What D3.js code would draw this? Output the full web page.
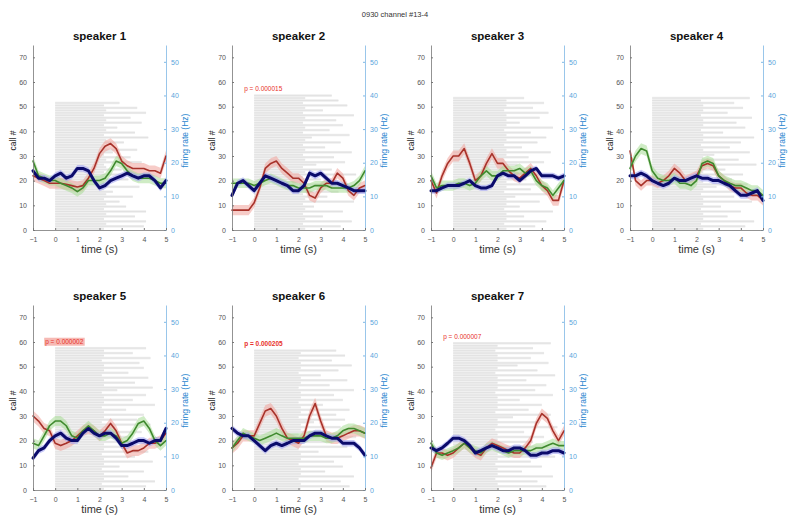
<!DOCTYPE html>
<html><head><meta charset="utf-8">
<script src="https://cdn.jsdelivr.net/npm/d3@7"></script>
<style>
body{margin:0;background:#fff;}
svg{display:block;font-family:Arial,"Liberation Sans",sans-serif;}
</style>
</head><body>
<svg id="chart" width="791" height="520"></svg>
<script>
// ---------------- data ----------------
const figTitle = "0930 channel #13-4";
const speakers = ["speaker 1","speaker 2","speaker 3","speaker 4","speaker 5","speaker 6","speaker 7"];
const timePoints = [-1,-0.75,-0.5,-0.25,0,0.25,0.5,0.75,1,1.25,1.5,1.75,2,2.25,2.5,2.75,3,3.25,3.5,3.75,4,4.25,4.5,4.75,5];
const xTicks = [-1,0,1,2,3,4,5];
const callTicks = [0,10,20,30,40,50,60,70];
const rateTicks = [0,10,20,30,40,50];
const callDomain = [0,75];
const rateDomain = [0,55];
const xLabel = "time (s)";
const callLabel = "call #";
const rateLabel = "firing rate (Hz)";

// firing rates (Hz) per speaker
const redRate = [
 [16.1,15.4,14.7,13.9,13.9,13.9,13.6,13.2,12.8,13.2,15.4,18.3,22.7,24.9,25.7,24.2,20.5,19.1,18.3,18.3,18.3,17.6,17.6,16.9,22.0],
 [5.9,5.9,5.9,5.9,8.1,12.5,18.3,19.8,20.5,18.3,16.9,15.4,15.4,13.9,10.3,9.5,12.5,13.9,13.9,16.9,15.4,11.7,10.3,12.5,13.2],
 [14.7,11.0,16.1,19.8,22.0,22.0,24.2,19.8,14.7,16.1,19.8,22.7,19.8,19.8,17.6,16.1,15.4,16.9,18.3,16.1,13.2,11.7,8.8,8.8,14.7],
 [23.5,14.7,13.2,14.7,14.7,13.9,14.7,16.1,18.3,16.9,14.7,15.4,16.1,19.1,19.8,19.1,16.1,14.7,13.2,12.5,12.5,11.0,10.3,10.3,8.8],
 [22.0,20.5,18.3,17.6,13.9,13.2,13.9,14.7,16.1,17.6,18.3,17.6,16.1,17.6,19.8,17.6,13.9,11.0,11.7,11.7,12.5,13.9,13.9,14.7,16.9],
 [12.5,13.9,16.1,16.1,16.1,19.8,23.5,24.2,22.0,18.3,15.4,14.7,13.9,16.1,22.0,25.7,20.5,16.1,15.4,15.4,16.1,16.9,17.6,17.6,16.9],
 [6.6,11.0,11.0,10.3,11.0,12.5,13.9,12.5,11.0,10.3,12.5,13.9,13.2,12.5,11.7,11.0,11.0,12.5,14.7,19.8,22.7,21.3,17.6,14.7,17.6]
];
const greenRate = [
 [20.5,16.1,15.4,14.7,14.7,13.9,13.2,12.5,11.4,12.5,14.7,14.7,14.7,15.4,17.6,20.5,19.8,17.6,16.1,15.4,15.4,15.4,14.7,13.9,13.9],
 [13.9,13.9,13.9,13.9,13.2,13.9,14.7,15.4,14.7,13.9,13.2,13.2,12.5,12.5,12.5,13.2,13.2,13.2,12.5,12.5,12.5,12.5,13.2,14.7,17.6],
 [16.1,12.5,13.2,13.2,13.2,13.9,13.9,13.2,13.9,16.1,17.6,16.1,16.1,17.6,17.6,17.6,18.3,16.9,17.6,14.7,13.2,12.5,10.3,12.5,14.7],
 [18.3,22.0,24.2,23.5,17.6,15.4,14.7,14.7,15.4,13.9,13.9,13.2,14.7,19.8,20.5,19.8,16.1,14.7,13.9,13.2,13.2,12.5,11.7,11.7,10.3],
 [13.9,13.2,16.1,19.1,20.5,20.5,19.1,16.1,15.4,17.6,19.1,17.6,16.1,16.1,16.9,16.1,13.9,14.7,16.9,19.8,20.5,18.3,14.7,13.2,14.7],
 [12.5,14.7,16.9,16.1,15.4,14.7,15.4,16.1,16.9,16.1,15.4,15.4,15.4,15.4,16.1,16.1,16.1,15.4,15.4,16.1,17.6,18.3,18.3,17.6,16.9],
 [13.9,11.0,10.3,11.0,11.7,12.5,13.9,12.5,11.7,11.0,12.5,13.2,12.5,11.7,11.0,11.7,11.7,11.7,11.7,12.5,12.5,13.2,13.9,13.2,13.2]
];
const blueRate = [
 [17.6,15.4,15.4,14.7,16.1,16.9,15.4,16.1,18.3,18.3,17.6,14.7,12.5,13.2,14.7,15.4,16.1,16.9,16.1,15.4,16.1,16.1,14.7,12.5,14.7],
 [10.3,13.9,14.7,13.2,11.7,13.9,16.1,15.4,14.7,13.9,13.2,11.7,11.7,13.2,16.9,16.1,16.9,15.4,13.9,13.9,13.2,12.5,11.7,11.7,11.7],
 [11.7,11.7,12.5,13.2,13.2,13.2,13.9,14.7,13.2,12.5,12.5,13.2,16.1,16.9,16.1,16.1,14.7,16.1,17.6,18.3,16.1,16.1,16.1,15.4,16.1],
 [16.1,16.1,16.9,16.1,14.7,13.9,13.2,13.9,15.4,14.7,14.7,15.4,16.1,15.4,15.4,14.7,14.7,13.9,13.2,11.7,10.3,10.3,11.0,11.7,8.8],
 [9.5,11.7,12.5,14.7,16.1,16.9,15.4,14.7,14.7,16.9,18.3,16.9,16.1,16.9,16.9,15.4,13.2,13.2,13.9,14.7,14.7,13.9,14.7,14.7,18.3],
 [18.3,16.9,16.1,16.1,14.7,13.2,11.7,13.2,13.9,13.2,13.9,14.7,14.7,14.7,16.1,16.9,16.9,16.1,15.4,15.4,13.9,13.9,13.9,12.5,10.3],
 [12.5,11.7,12.5,13.9,15.4,15.4,14.7,13.2,11.0,11.7,12.5,13.2,12.5,11.7,11.7,12.5,12.5,11.7,10.3,10.3,11.0,11.0,11.7,11.7,11.0]
];
// standard error (Hz) per speaker
const semRed   = [1.6,1.5,1.6,1.5,1.6,1.7,1.5];
const semGreen = [1.5,1.4,1.5,1.6,1.5,1.5,1.4];
const semBlue  = [1.0,1.0,0.9,1.0,1.0,1.0,1.0];

// call durations (s) per speaker, one entry per call
const callDurations = [
 [2.2,4.0,2.3,4.1,2.2,3.6,2.3,4.1,2.2,3.2,2.3,2.9,2.2,3.5,2.3,2.6,2.2,3.8,2.4,2.2,3.3,2.3,4.3,2.2,3.0,2.3,2.2,3.9,2.3,3.4,2.2,2.6,3.7,2.3,2.2,3.1,2.3,4.2,2.2,3.6,2.3,2.8,2.2,3.9,2.3,3.4,2.2,4.1,2.3,3.7,2.2,2.9],
 [2.3,3.9,2.2,4.4,2.3,3.1,2.2,4.0,2.3,2.7,2.2,4.5,2.3,3.3,2.2,3.8,2.4,2.2,4.2,2.3,3.0,2.2,4.6,2.3,3.5,2.2,2.8,4.1,2.3,3.6,2.2,4.4,2.3,3.2,2.2,3.9,2.3,2.6,4.3,2.2,3.4,2.3,4.0,2.2,3.7,2.3,4.5,2.2,3.1,2.3,4.2,2.2,3.8,2.3,3.5],
 [2.4,3.7,2.3,4.2,2.4,3.2,2.4,4.5,2.3,3.0,2.4,3.9,2.4,2.8,4.3,2.3,3.5,2.4,4.0,2.4,3.3,2.3,4.6,2.4,3.6,2.4,2.9,4.1,2.3,3.4,2.4,4.4,2.4,3.1,2.3,3.8,2.4,4.2,2.4,3.5,2.3,4.5,2.4,3.0,2.4,3.9,2.4,4.3,2.3,3.6,2.4,4.1,2.4,3.2],
 [2.3,4.2,2.2,4.6,2.3,3.4,2.3,4.0,2.2,3.1,2.3,4.5,2.3,3.7,2.2,4.8,2.3,2.9,4.3,2.3,3.6,2.2,4.1,2.3,3.3,2.3,4.7,2.2,3.9,2.3,2.8,4.4,2.3,3.5,2.2,4.0,2.3,4.6,2.3,3.2,2.2,4.2,2.3,3.8,2.3,4.5,2.2,3.4,2.3,4.1,2.3,3.7,2.2,4.4],
 [2.2,4.1,2.1,4.5,2.2,3.3,2.2,4.0,2.1,2.9,2.2,4.4,2.2,3.6,2.1,4.2,2.2,3.0,2.2,4.6,2.1,3.4,2.2,3.9,2.2,2.7,4.3,2.1,3.7,2.2,4.0,2.2,3.2,2.1,4.5,2.2,3.5,2.2,4.1,2.1,2.8,4.4,2.2,3.6,2.2,4.2,2.1,3.3,2.2,4.0,2.2,3.8,2.1,4.3,2.2,3.5,2.2,4.1],
 [2.1,4.3,2.1,3.9,2.0,4.5,2.1,3.2,2.1,4.0,2.0,3.6,2.1,4.4,2.1,2.9,2.0,4.2,2.1,3.5,2.1,4.6,2.0,3.3,2.1,3.9,2.1,2.7,4.1,2.0,3.7,2.1,4.3,2.1,3.1,2.0,4.0,2.1,3.6,2.1,4.5,2.0,3.4,2.1,4.2,2.1,3.0,2.0,3.8,2.1,4.4,2.1,3.5,2.0,4.1,2.1,3.7],
 [2.0,4.2,2.0,3.8,1.9,4.5,2.0,3.1,2.0,4.0,1.9,3.5,2.0,4.6,2.0,2.8,2.0,4.3,1.9,3.6,2.0,4.1,2.0,3.2,1.9,4.7,2.0,3.9,2.0,2.7,4.4,1.9,3.4,2.0,4.0,2.0,3.0,2.0,4.5,1.9,3.7,2.0,4.2,2.0,3.3,2.0,4.6,1.9,3.8,2.0,2.9,4.3,2.0,3.5,2.0,4.1,1.9,3.6,2.0,4.4]
];
const pLabels = [null,"p = 0.000015",null,null,"p = 0.000002","p = 0.000205","p = 0.000007"];
const pHighlight = [false,false,false,false,true,false,false];

// ---------------- drawing ----------------
const svg = d3.select("#chart");
const W = 133, H = 185;
const colStep = 199, rowStep = 260;
const firstLeft = 33, firstBottom = 230;
const rightColor = "#2a86cf";

svg.append("text").attr("x", 395).attr("y", 17).attr("text-anchor","middle")
  .attr("font-size", 7.5).attr("fill", "#333").text(figTitle);

const series = [
  {data: redRate,   sem: semRed,   line: "#a8322a", band: "#f0a29a", width: 1.6},
  {data: greenRate, sem: semGreen, line: "#3f8a2e", band: "#a8dc96", width: 1.6},
  {data: blueRate,  sem: semBlue,  line: "#0b0b6b", band: "#9a9cf2", width: 3.0}
];

speakers.forEach((name, i) => {
  const col = i % 4, row = Math.floor(i / 4);
  const left = firstLeft + col * colStep;
  const bottom = firstBottom + row * rowStep;
  const x = d3.scaleLinear().domain([-1,5]).range([left, left + W]);
  const yCall = d3.scaleLinear().domain(callDomain).range([bottom, bottom - H]);
  const yRate = d3.scaleLinear().domain(rateDomain).range([bottom, bottom - H]);
  const g = svg.append("g");

  // raster of calls: a faint full-height row plus a thin centre line
  const durs = callDurations[i];
  g.append("g").selectAll("rect").data(durs).join("rect")
    .attr("x", x(0))
    .attr("width", d => x(d) - x(0))
    .attr("y", (d, j) => yCall(j + 1))
    .attr("height", (d, j) => yCall(j) - yCall(j + 1))
    .attr("fill", "#ececec");
  g.append("g").selectAll("rect").data(durs).join("rect")
    .attr("x", x(0))
    .attr("width", d => x(d) - x(0))
    .attr("y", (d, j) => yCall(j + 0.7))
    .attr("height", (d, j) => yCall(j + 0.3) - yCall(j + 0.7))
    .attr("fill", "#e2e2e2");

  // bands and lines
  series.forEach(s => {
    const vals = s.data[i], e = s.sem[i];
    const area = d3.area()
      .x((d, k) => x(timePoints[k]))
      .y0(d => yRate(d - e))
      .y1(d => yRate(d + e));
    g.append("path").attr("d", area(vals)).attr("fill", s.band).attr("opacity", 0.55);
  });
  series.forEach(s => {
    const vals = s.data[i];
    const line = d3.line().x((d, k) => x(timePoints[k])).y(d => yRate(d));
    g.append("path").attr("d", line(vals)).attr("fill", "none")
      .attr("stroke", s.line).attr("stroke-width", s.width)
      .attr("stroke-linejoin", "round").attr("stroke-linecap", "round");
  });

  // p-value label
  if (pLabels[i]) {
    const t = g.append("text").attr("x", x(-0.45)).attr("y", yCall(durs.length + 1.3))
      .attr("font-size", 6.5).attr("fill", "#e8312a")
      .attr("font-weight", (i === 5) ? "bold" : "normal")
      .text(pLabels[i]);
    if (pHighlight[i]) {
      const bb = t.node().getBBox();
      g.insert("rect", () => t.node())
        .attr("x", bb.x - 1).attr("y", bb.y).attr("width", bb.width + 2).attr("height", bb.height)
        .attr("fill", "#f6b9b4");
    }
  }

  // axes
  const axL = d3.axisLeft(yCall).tickValues(callTicks).tickSizeInner(-2).tickSizeOuter(0).tickPadding(6);
  const gl = g.append("g").attr("transform", `translate(${left},0)`).call(axL);
  gl.select(".domain").attr("stroke", "#777").attr("stroke-width", 0.8);
  gl.selectAll(".tick line").attr("stroke", "#777");
  gl.selectAll(".tick text").attr("font-size", 7).attr("fill", "#555").attr("font-family", "Arial, Liberation Sans, sans-serif");

  const axR = d3.axisRight(yRate).tickValues(rateTicks).tickSizeInner(-2).tickSizeOuter(0).tickPadding(5);
  const gr = g.append("g").attr("transform", `translate(${left + W},0)`).call(axR);
  gr.select(".domain").attr("stroke", "#7fb8e4").attr("stroke-width", 0.8);
  gr.selectAll(".tick line").attr("stroke", "#7fb8e4");
  gr.selectAll(".tick text").attr("font-size", 7).attr("fill", "#5aa4dc").attr("font-family", "Arial, Liberation Sans, sans-serif");

  const axB = d3.axisBottom(x).tickValues(xTicks).tickSizeInner(-2).tickSizeOuter(0).tickPadding(7)
    .tickFormat(d3.format("d"));
  const gb = g.append("g").attr("transform", `translate(0,${bottom})`).call(axB);
  gb.select(".domain").attr("stroke", "#777").attr("stroke-width", 0.8);
  gb.selectAll(".tick line").attr("stroke", "#777");
  gb.selectAll(".tick text").attr("font-size", 7).attr("fill", "#555").attr("font-family", "Arial, Liberation Sans, sans-serif");

  // labels
  g.append("text").attr("x", (left + left + W) / 2).attr("y", bottom - H - 5)
    .attr("text-anchor", "middle").attr("font-size", 11.5).attr("font-weight", "bold")
    .attr("fill", "#111").text(name);
  g.append("text").attr("x", (left + left + W) / 2).attr("y", bottom + 23)
    .attr("text-anchor", "middle").attr("font-size", 11).attr("fill", "#333").text(xLabel);
  const midY = bottom - H / 2 + 3;
  g.append("text").attr("transform", `translate(${left - 17},${midY}) rotate(-90)`)
    .attr("text-anchor", "middle").attr("font-size", 8.5).attr("fill", "#222").text(callLabel);
  g.append("text").attr("transform", `translate(${left + W + 22},${midY}) rotate(-90)`)
    .attr("text-anchor", "middle").attr("font-size", 8.5).attr("fill", rightColor).text(rateLabel);
});
</script>
</body></html>
